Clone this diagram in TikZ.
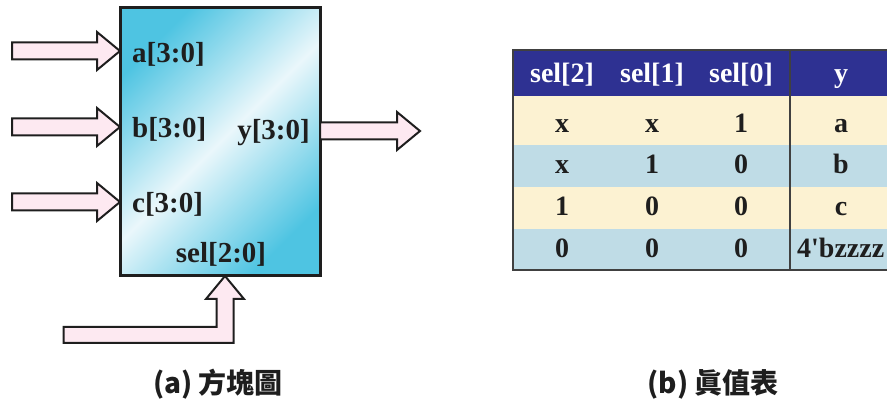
\documentclass[tikz,border=0pt]{standalone}
\usepackage{fontspec}
\setmainfont{Liberation Serif}
\newfontfamily\cjkfont{Noto Sans CJK TC}
\definecolor{arrowpink}{HTML}{FDE9F1}
\definecolor{blockcyan}{HTML}{4EC4E2}
\definecolor{blocklight}{HTML}{EAF7FB}
\definecolor{headnavy}{HTML}{2E3192}
\definecolor{rowcream}{HTML}{FCF2D2}
\definecolor{rowblue}{HTML}{BFDCE6}
\definecolor{inkdark}{HTML}{1E1E1E}
\begin{document}
\begin{tikzpicture}[x=1pt,y=-1pt,
  fatarrow/.style={fill=arrowpink, draw=inkdark, line width=2pt, line join=miter},
  muxblock/.style={draw=inkdark, line width=3pt, rectangle, inner sep=0pt,
    minimum width=200pt, minimum height=268pt,
    top color=blockcyan, bottom color=blockcyan, middle color=blocklight,
    shading angle=45},
  portlbl/.style={font=\fontsize{29}{32}\selectfont\bfseries, text=inkdark, inner sep=0pt},
  cell/.style={font=\fontsize{28}{32}\selectfont\bfseries, text=inkdark, inner sep=0pt, anchor=base},
  headcell/.style={cell, text=white},
  tableline/.style={draw=inkdark!85, line width=2pt},
  caption/.style={font=\cjkfont\bfseries\fontsize{28}{32}\selectfont, text=inkdark, inner sep=0pt}]
\useasboundingbox (0,0) rectangle (887,403);
\clip (0,0) rectangle (887,403);

% ---- (a) block diagram ----
\node[muxblock] (blk) at (220,142) {};

\node[portlbl, anchor=base west] (pa) at (132,63) {a[3:0]};
\node[portlbl, anchor=base west] (pb) at (132,138) {b[3:0]};
\node[portlbl, anchor=base west] (pc) at (132,213) {c[3:0]};
\node[portlbl, anchor=base east] (py) at (310,140) {y[3:0]};
\node[portlbl, anchor=base] (psel) at (221,263) {sel[2:0]};

% arrow tips on the block outline
\coordinate (tipA) at (120,51);
\coordinate (tipB) at (120,127);
\coordinate (tipC) at (120,202);
\coordinate (tailY) at (320,131);
\coordinate (tipS) at (225,276);

% input buses
\foreach \t in {tipA,tipB,tipC}
  \draw[fatarrow] (\t) -- ++(-23,-19) -- ++(0,10.5) -- ++(-85,0) -- ++(0,17)
    -- ++(85,0) -- ++(0,10.5) -- cycle;

% output bus
\draw[fatarrow] (tailY) ++(0,-8.5) -- ++(77,0) -- ++(0,-10.5) -- ++(23,19)
  -- ++(-23,19) -- ++(0,-10.5) -- ++(-77,0) -- cycle;

% select bus, bent
\draw[fatarrow] (tipS) -- ++(19,23) -- ++(-10.5,0) -- ++(0,44) -- ++(-170,0)
  -- ++(0,-16) -- ++(153,0) -- ++(0,-28) -- ++(-10.5,0) -- cycle;

% ---- (b) truth table ----
\fill[headnavy] (513,50) rectangle (900,96);
\fill[rowcream] (513,96) rectangle (900,145);
\fill[rowblue]  (513,145) rectangle (900,187);
\fill[rowcream] (513,187) rectangle (900,229);
\fill[rowblue]  (513,229) rectangle (900,270);
\draw[tableline] (513,50) rectangle (900,270);
\draw[tableline] (790,50) -- (790,270);

\node[headcell] (h1) at (562,83) {sel[2]};
\node[headcell] (h2) at (652,83) {sel[1]};
\node[headcell] (h3) at (741,83) {sel[0]};
\node[headcell] (h4) at (841,83) {y};

\node[cell] (r1a) at (562,133) {x};
\node[cell] (r1b) at (652,133) {x};
\node[cell] (r1c) at (741,133) {1};
\node[cell] (r1y) at (841,133) {a};

\node[cell] (r2a) at (562,174) {x};
\node[cell] (r2b) at (652,174) {1};
\node[cell] (r2c) at (741,174) {0};
\node[cell] (r2y) at (841,174) {b};

\node[cell] (r3a) at (562,216) {1};
\node[cell] (r3b) at (652,216) {0};
\node[cell] (r3c) at (741,216) {0};
\node[cell] (r3y) at (841,216) {c};

\node[cell] (r4a) at (562,258) {0};
\node[cell] (r4b) at (652,258) {0};
\node[cell] (r4c) at (741,258) {0};
\node[cell, anchor=base west] (r4y) at (797,258) {4\textquotesingle bzzzz};

% ---- captions ----
\node[caption] (capa) at (218,384) {(a) 方塊圖};
\node[caption] (capb) at (713,384) {(b) 眞值表};
\end{tikzpicture}
\end{document}
